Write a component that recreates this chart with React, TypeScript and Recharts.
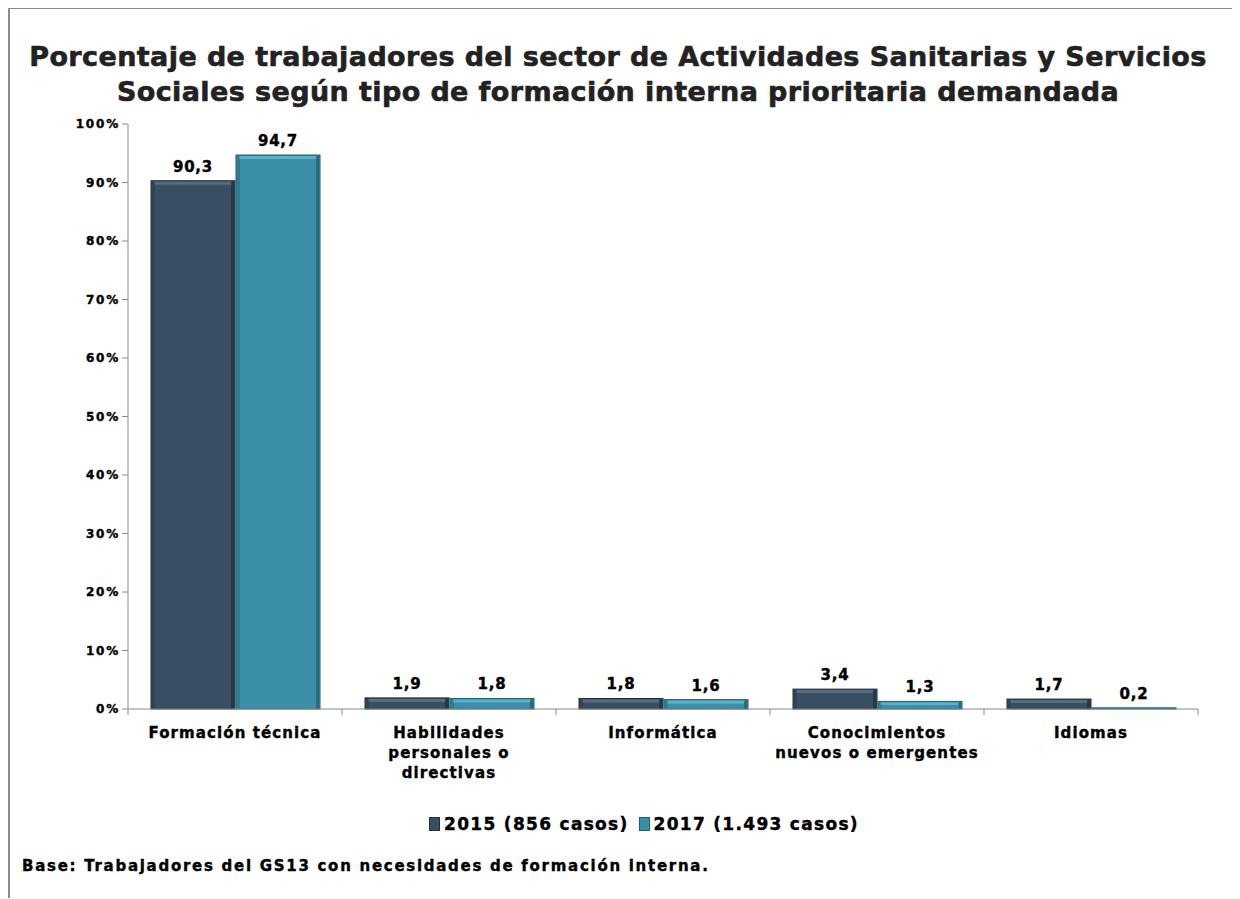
import React from "react";
import { BarChart, Bar, XAxis, YAxis, LabelList } from "recharts";

const categories = [
  "Formación técnica",
  "Habilidades personales o directivas",
  "Informática",
  "Conocimientos nuevos o emergentes",
  "Idiomas",
];
const categoryLines: Record<string, string[]> = {
  "Formación técnica": ["Formación técnica"],
  "Habilidades personales o directivas": ["Habilidades", "personales o", "directivas"],
  "Informática": ["Informática"],
  "Conocimientos nuevos o emergentes": ["Conocimientos", "nuevos o emergentes"],
  "Idiomas": ["Idiomas"],
};
const values2015 = [90.3, 1.9, 1.8, 3.4, 1.7];
const values2017 = [94.7, 1.8, 1.6, 1.3, 0.2];
const yTicks = [0, 10, 20, 30, 40, 50, 60, 70, 80, 90, 100];

const SERIES = [
  { key: "v2015", name: "2015 (856 casos)", fill: "#374F60", light: "#5B7587", dark: "#1F2F3B" },
  { key: "v2017", name: "2017 (1.493 casos)", fill: "#3A8EA6", light: "#62BCD3", dark: "#1F5E70" },
];

const data = categories.map((c, i) => ({ name: c, v2015: values2015[i], v2017: values2017[i] }));

const FONT = "'DejaVu Sans', Verdana, sans-serif";
const W = 1232;
const H = 891;
const MARGIN = { top: 117, right: 42, left: 0, bottom: 109 };
const Y_WIDTH = 120;
const BAND = (W - MARGIN.left - MARGIN.right - Y_WIDTH) / categories.length;

function BevelBar(props: any) {
  const { x, y, width, height, light, dark, fill } = props;
  if (!height || height <= 0) return null;
  const b = Math.min(3, height / 3);
  return (
    <g>
      <rect x={x} y={y} width={width} height={height} fill={fill} stroke={dark} strokeWidth={1} />
      {height > 4 && (
        <>
          <rect x={x + b} y={y + 1} width={width - 2 * b} height={b} fill={light} opacity={0.8} />
          <rect x={x + width - b - 1} y={y + 1} width={b} height={height - 1} fill={dark} opacity={0.7} />
          <rect x={x + 1} y={y + 1} width={b} height={height - 1} fill={dark} opacity={0.35} />
        </>
      )}
    </g>
  );
}

function CategoryTick(props: any) {
  const { x, y, payload, index } = props;
  const lines = categoryLines[payload.value] || [payload.value];
  const axisY = y - 8;
  return (
    <g>
      <line x1={x - BAND / 2} y1={axisY} x2={x - BAND / 2} y2={axisY + 6} stroke="#8a8a8a" />
      {index === categories.length - 1 && (
        <line x1={x + BAND / 2} y1={axisY} x2={x + BAND / 2} y2={axisY + 6} stroke="#8a8a8a" />
      )}
      {lines.map((l, i) => (
        <text
          key={i}
          x={x}
          y={axisY + 29 + i * 20}
          textAnchor="middle"
          fontFamily={FONT}
          fontWeight="bold"
          fontSize={15}
          letterSpacing={1.1}
          fill="#000"
          stroke="#000"
          strokeWidth={0.4}
        >
          {l}
        </text>
      ))}
    </g>
  );
}

function YTick(props: any) {
  const { x, y, payload } = props;
  return (
    <text
      x={x}
      y={y + 4}
      textAnchor="end"
      fontFamily={FONT}
      fontWeight="bold"
      fontSize={12}
      letterSpacing={1.8}
      fill="#000"
      stroke="#000"
      strokeWidth={0.4}
    >
      {`${payload.value}%`}
    </text>
  );
}

const fmt = (v: any) => String(v).replace(".", ",");

export default function App() {
  return (
    <div
      style={{
        position: "relative",
        width: W,
        height: H,
        borderTop: "2px solid #8c8c8c",
        borderLeft: "2px solid #8c8c8c",
        boxSizing: "border-box",
        background: "#fff",
        fontFamily: FONT,
        marginTop: -1,
      }}
    >
      <div
        style={{
          position: "absolute",
          top: 30,
          left: -8,
          width: W,
          textAlign: "center",
          fontSize: 27,
          fontWeight: "bold",
          letterSpacing: 0.4,
          lineHeight: "35px",
          color: "#222",
          WebkitTextStroke: "0.6px #222",
        }}
      >
        Porcentaje de trabajadores del sector de Actividades Sanitarias y Servicios
        <br />
        Sociales según tipo de formación interna prioritaria demandada
      </div>
      <div style={{ position: "absolute", top: -2, left: -2 }}>
        <BarChart
          width={W}
          height={H}
          data={data}
          margin={MARGIN}
          barSize={84}
          barGap={1}
        >
          <YAxis
            width={Y_WIDTH}
            domain={[0, 100]}
            ticks={yTicks}
            interval={0}
            tick={<YTick />}
            tickSize={6}
            tickMargin={2}
            axisLine={{ stroke: "#8a8a8a" }}
            tickLine={{ stroke: "#8a8a8a" }}
          />
          <XAxis
            dataKey="name"
            height={80}
            interval={0}
            tick={<CategoryTick />}
            tickLine={false}
            axisLine={{ stroke: "#8a8a8a" }}
          />
          {SERIES.map((s) => (
            <Bar
              key={s.key}
              dataKey={s.key}
              name={s.name}
              fill={s.fill}
              isAnimationActive={false}
              shape={(p: any) => <BevelBar {...p} fill={s.fill} light={s.light} dark={s.dark} />}
            >
              <LabelList
                dataKey={s.key}
                position="top"
                offset={9}
                formatter={fmt}
                style={{
                  fontSize: 15,
                  fontWeight: "bold",
                  fill: "#000",
                  stroke: "#000",
                  strokeWidth: 0.4,
                  letterSpacing: 0.8,
                  fontFamily: FONT,
                }}
              />
            </Bar>
          ))}
        </BarChart>
      </div>
      <div
        style={{
          position: "absolute",
          top: 805,
          left: 18,
          width: W,
          display: "flex",
          justifyContent: "center",
          gap: 10,
          fontSize: 17,
          fontWeight: "bold",
          letterSpacing: 1.3,
          color: "#000",
          WebkitTextStroke: "0.4px #000",
        }}
      >
        {SERIES.map((s) => (
          <span key={s.key} style={{ display: "flex", alignItems: "center", gap: 4 }}>
            <span
              style={{
                display: "inline-block",
                width: 9,
                height: 12,
                background: s.fill,
                border: `1px solid ${s.dark}`,
              }}
            />
            {s.name}
          </span>
        ))}
      </div>
      <div
        style={{
          position: "absolute",
          top: 848,
          left: 12,
          fontSize: 15,
          fontWeight: "bold",
          letterSpacing: 1.72,
          color: "#000",
          WebkitTextStroke: "0.4px #000",
        }}
      >
        Base: Trabajadores del GS13 con necesidades de formación interna.
      </div>
    </div>
  );
}
